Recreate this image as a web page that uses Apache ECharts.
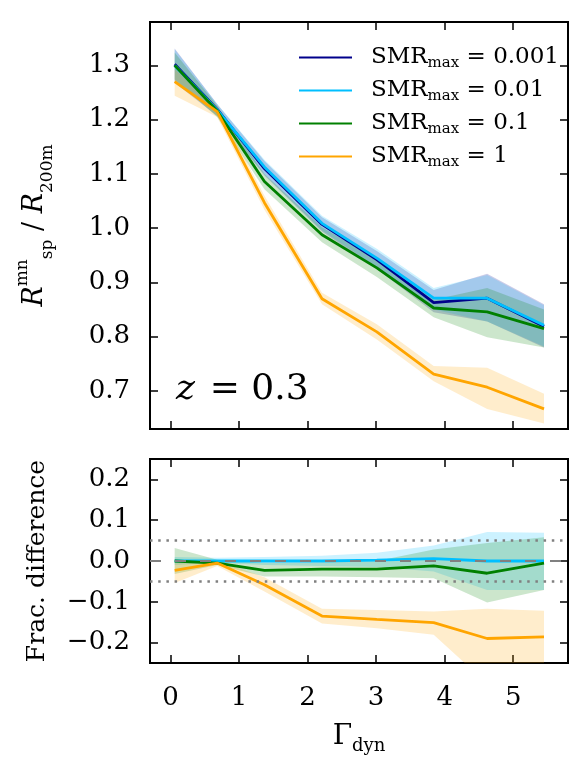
<!DOCTYPE html>
<html>
<head>
<meta charset="utf-8">
<script src="https://cdn.jsdelivr.net/npm/echarts@6/dist/echarts.min.js"></script>
<style>
  html, body { margin: 0; padding: 0; background: #fff; }
  #chart { width: 585px; height: 780px; }
</style>
</head>
<body>
<div id="chart"></div>
<script>
// Gamma_dyn bins
const gammaDyn = [0.06, 0.68, 1.37, 2.21, 3.01, 3.84, 4.62, 5.45]
const smrLabels = ['0.001', '0.01', '0.1', '1']

// top panel: R_sp / R_200m, mean and band edges
const ratio001 = [1.302, 1.219, 1.110, 1.007, 0.942, 0.863, 0.871, 0.819]
const ratio001Lo = [1.268, 1.207, 1.097, 0.994, 0.925, 0.845, 0.828, 0.780]
const ratio001Hi = [1.331, 1.229, 1.124, 1.020, 0.958, 0.886, 0.916, 0.860]
const ratio01 = [1.300, 1.218, 1.113, 1.009, 0.945, 0.871, 0.871, 0.821]
const ratio01Lo = [1.270, 1.207, 1.099, 0.996, 0.928, 0.850, 0.828, 0.782]
const ratio01Hi = [1.330, 1.229, 1.126, 1.023, 0.962, 0.890, 0.914, 0.858]
const ratio1 = [1.300, 1.216, 1.086, 0.988, 0.927, 0.853, 0.846, 0.815]
const ratio1Lo = [1.274, 1.205, 1.072, 0.974, 0.910, 0.836, 0.799, 0.780]
const ratio1Hi = [1.324, 1.226, 1.100, 1.002, 0.944, 0.868, 0.890, 0.850]
const ratio10 = [1.270, 1.215, 1.047, 0.870, 0.809, 0.731, 0.707, 0.667]
const ratio10Lo = [1.244, 1.205, 1.034, 0.860, 0.795, 0.718, 0.667, 0.640]
const ratio10Hi = [1.293, 1.225, 1.060, 0.881, 0.823, 0.746, 0.743, 0.695]

// bottom panel: fractional difference to SMR_max = 0.001
const diff01 = [0, 0, 0, 0, 0.002, 0.006, 0, 0]
const diff01Lo = [-0.010, -0.004, -0.010, -0.012, -0.015, -0.026, -0.071, -0.071]
const diff01Hi = [0.010, 0.008, 0.010, 0.013, 0.020, 0.038, 0.071, 0.069]
const diff1 = [0, -0.005, -0.023, -0.020, -0.020, -0.012, -0.030, -0.005]
const diff1Lo = [-0.032, -0.010, -0.038, -0.038, -0.040, -0.042, -0.102, -0.071]
const diff1Hi = [0.032, 0.003, -0.004, -0.003, 0.000, 0.028, 0.044, 0.058]
const diff10 = [-0.023, -0.005, -0.058, -0.135, -0.143, -0.151, -0.190, -0.186]
const diff10Lo = [-0.054, -0.012, -0.075, -0.153, -0.165, -0.181, -0.300, -0.300]
const diff10Hi = [0.000, 0.002, -0.040, -0.117, -0.120, -0.124, -0.117, -0.122]

const refLevel = [0]
const tolLevels = [0.05, -0.05]

const xTicks = [0, 1, 2, 3, 4, 5]
const topYTicks = [0.7, 0.8, 0.9, 1.0, 1.1, 1.2, 1.3]
const botYTicks = [-0.2, -0.1, 0.0, 0.1, 0.2]

const colors = ['#00008b', '#00bfff', '#008000', '#ffa500']
const bandColors = ['rgba(0,0,139,0.2)', 'rgba(0,191,255,0.2)', 'rgba(0,128,0,0.2)', 'rgba(255,165,0,0.2)']

const FONT = 'DejaVu Serif'

const pairs = (ys) => gammaDyn.map((x, i) => [x, ys[i]])
const fmt = (v) => v.toFixed(1).replace('-', '\u2212')

function band(lo, hi, color, axis) {
  return {
    type: 'custom',
    name: 'band',
    xAxisIndex: axis, yAxisIndex: axis,
    data: [[gammaDyn[0], lo[0]]],
    clip: true,
    silent: true,
    renderItem: function (params, api) {
      const pts = []
      for (let i = 0; i < gammaDyn.length; i++) pts.push(api.coord([gammaDyn[i], hi[i]]))
      for (let i = gammaDyn.length - 1; i >= 0; i--) pts.push(api.coord([gammaDyn[i], lo[i]]))
      return { type: 'polygon', shape: { points: pts }, style: { fill: color } }
    }
  }
}

function line(name, ys, color, axis) {
  return {
    type: 'line',
    name: name,
    xAxisIndex: axis, yAxisIndex: axis,
    data: pairs(ys),
    showSymbol: false,
    symbol: 'none',
    color: color,
    lineStyle: { width: 2.8, color: color },
    clip: true,
    animation: false
  }
}

const tick = (vals) => ({ show: true, inside: true, length: 8, customValues: vals, lineStyle: { color: '#000', width: 1.5 } })

function xAxisDef(grid, pos, labels) {
  return {
    type: 'value', gridIndex: grid, position: pos,
    min: -0.3, max: 5.8,
    axisLine: { show: false, onZero: false },
    axisTick: tick(xTicks),
    splitLine: { show: false },
    axisLabel: labels
      ? { show: true, customValues: xTicks, margin: 22, color: '#000', fontFamily: FONT, fontSize: 26 }
      : { show: false }
  }
}

function yAxisDef(grid, pos, min, max, ticks, labels) {
  return {
    type: 'value', gridIndex: grid, position: pos,
    min: min, max: max,
    axisLine: { show: false, onZero: false },
    axisTick: tick(ticks),
    splitLine: { show: false },
    axisLabel: labels
      ? { show: true, customValues: ticks, formatter: fmt, margin: 20, color: '#000', fontFamily: FONT, fontSize: 26 }
      : { show: false }
  }
}

const chart = echarts.init(document.getElementById('chart'))

const topY = yAxisDef(0, 'left', 0.63, 1.38, topYTicks, true)
topY.name = '{i|R}{sup|mn}{sub|sp}{n| / }{i|R}{sub|200m}'
topY.nameLocation = 'middle'
topY.nameGap = 94
topY.nameRotate = 90
topY.nameTextStyle = {
  color: '#000', fontFamily: FONT, fontSize: 27, lineHeight: 42,
  rich: {
    i: { fontFamily: FONT, fontStyle: 'italic', fontSize: 27, color: '#000' },
    n: { fontFamily: FONT, fontSize: 27, color: '#000' },
    sup: { fontFamily: FONT, fontSize: 17, verticalAlign: 'top', color: '#000' },
    sub: { fontFamily: FONT, fontSize: 17, verticalAlign: 'bottom', color: '#000' }
  }
}

const botY = yAxisDef(1, 'left', -0.25, 0.25, botYTicks, true)
botY.name = 'Frac. difference'
botY.nameLocation = 'middle'
botY.nameGap = 100
botY.nameRotate = 90
botY.nameTextStyle = { color: '#000', fontFamily: FONT, fontSize: 25 }

const botX = xAxisDef(1, 'bottom', true)
botX.name = '{g|\u0393}{s|dyn}'
botX.nameLocation = 'middle'
botX.nameGap = 56
botX.nameTextStyle = {
  color: '#000', lineHeight: 36,
  rich: {
    g: { fontFamily: FONT, fontSize: 28, color: '#000' },
    s: { fontFamily: FONT, fontSize: 18, verticalAlign: 'bottom', color: '#000' }
  }
}

const names = smrLabels.map(s => 'SMR ' + s)
const topVals = [[ratio001, ratio001Lo, ratio001Hi], [ratio01, ratio01Lo, ratio01Hi], [ratio1, ratio1Lo, ratio1Hi], [ratio10, ratio10Lo, ratio10Hi]]
const botVals = [null, [diff01, diff01Lo, diff01Hi], [diff1, diff1Lo, diff1Hi], [diff10, diff10Lo, diff10Hi]]

const series = []
topVals.forEach((v, k) => {
  series.push(band(v[1], v[2], bandColors[k], 0))
  series.push(line(names[k], v[0], colors[k], 0))
})
botVals.forEach((v, k) => {
  if (!v) return
  series.push(band(v[1], v[2], bandColors[k], 1))
  series.push(line(names[k], v[0], colors[k], 1))
})
// reference lines in the lower panel
series.push({
  type: 'line', name: 'ref', xAxisIndex: 1, yAxisIndex: 1, data: [], z: 5,
  markLine: {
    silent: true, symbol: 'none', label: { show: false }, animation: false,
    data: tolLevels.map(v => ({ yAxis: v, lineStyle: { type: [2.5, 5.7], color: '#808080', width: 2.5 } }))
      .concat(refLevel.map(v => ({ yAxis: v, lineStyle: { type: [11, 14], color: '#808080', width: 2 } })))
  }
})

chart.setOption({
  animation: false,
  backgroundColor: '#fff',
  grid: [
    { left: 150, right: 17, top: 22, height: 407, show: true, borderColor: '#000', borderWidth: 2, backgroundColor: 'transparent' },
    { left: 150, right: 17, top: 459, height: 204, show: true, borderColor: '#000', borderWidth: 2, backgroundColor: 'transparent' }
  ],
  xAxis: [
    xAxisDef(0, 'bottom', false),
    botX,
    xAxisDef(0, 'top', false),
    xAxisDef(1, 'top', false)
  ],
  yAxis: [
    topY,
    botY,
    yAxisDef(0, 'right', 0.63, 1.38, topYTicks, false),
    yAxisDef(1, 'right', -0.25, 0.25, botYTicks, false)
  ],
  legend: {
    data: names,
    orient: 'vertical',
    left: 294, top: 36,
    icon: 'rect',
    itemWidth: 53, itemHeight: 2,
    itemGap: 0,
    selectedMode: false,
    formatter: function (name) {
      return '{g|}{a|SMR}{s|max}{a| = ' + name.split(' ')[1] + '}'
    },
    textStyle: {
      lineHeight: 33,
      rich: {
        g: { width: 14 },
        a: { fontFamily: FONT, fontSize: 23, color: '#000' },
        s: { fontFamily: FONT, fontSize: 15, color: '#000', verticalAlign: 'bottom', padding: [0, 0, 3, 0] }
      }
    }
  },
  graphic: [{
    type: 'text', left: 176, top: 372, silent: true,
    style: {
      text: '{z|z} {n| = 0.3}',
      rich: {
        z: { fontFamily: FONT, fontStyle: 'italic', fontSize: 36, fill: '#000' },
        n: { fontFamily: FONT, fontSize: 36, fill: '#000' }
      }
    }
  }],
  series: series
})
window.addEventListener('resize', () => chart.resize())
</script>
</body>
</html>
